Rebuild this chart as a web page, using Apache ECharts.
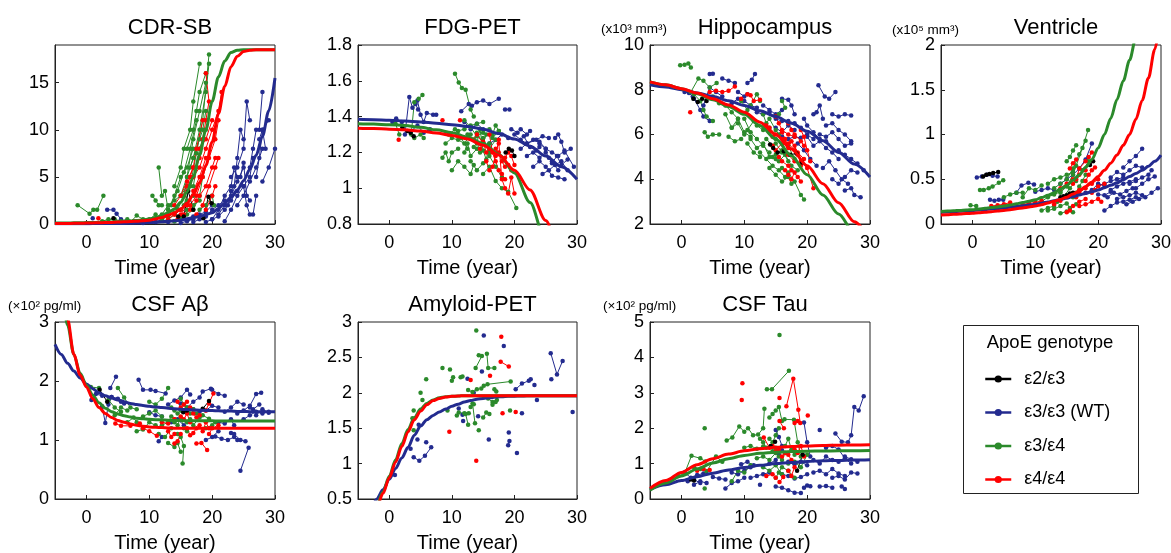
<!DOCTYPE html>
<html><head><meta charset="utf-8">
<script src="https://cdn.jsdelivr.net/npm/echarts@6/dist/echarts.min.js"></script>
<style>html,body{margin:0;padding:0;background:#fff}#c{width:1171px;height:553px}</style>
</head><body><div id="c"></div>
<script>
// ---------------- DATA ----------------
const genotypes = ['ε2/ε3', 'ε3/ε3 (WT)', 'ε3/ε4', 'ε4/ε4'];
const panelTitles = ['CDR-SB', 'FDG-PET', 'Hippocampus', 'Ventricle', 'CSF Aβ', 'Amyloid-PET', 'CSF Tau'];
const unitLabels = ['', '', '(x10³ mm³)', '(x10⁵ mm³)', '(×10² pg/ml)', '', '(×10² pg/ml)'];
const xMin = -5, xMax = 30;
const xTicks = [0, 10, 20, 30];
const yMin = [0, 0.8, 2, 0, 0, 0.5, 0];
const yMax = [19, 1.8, 10, 2, 3, 3, 5];
const yTicks = [[0, 5, 10, 15], [0.8, 1, 1.2, 1.4, 1.6, 1.8], [2, 4, 6, 8, 10], [0, 0.5, 1, 1.5, 2], [0, 1, 2, 3], [0.5, 1, 1.5, 2, 2.5, 3], [0, 1, 2, 3, 4, 5]];
const xName = 'Time (year)';
const legendTitle = 'ApoE genotype';

// trajectories: each entry is [x1,y1,x2,y2,...]
// CDR-SB
const cdr_k = [[4.3,0.6],[14.6,0.8,15.5,0.8,16.2,3.5,17,1.5],[18.6,0.6,19.4,2.9,19.9,2.2]];
const cdr_b = [[1,0.6],[3.3,1.5,4.3,1.5,4.8,1.1,5.5,0.5],[6,0.2,8,0.3,10,0.2,12,0.4,14,0.3],[9,0.1,11,0.2,13,0.2,15,0.5,17,0.8],
 [15,0.1,16,0.3,17,0.5,18,1,19,1.3,20,2],[17,0.2,18,0.5,19,0.8,20,1.5,21,2,22,2.5],[20,0.5,21,1.5,22,3,23,4,23.5,6,24,5],
 [21,1,22,2,23,3,24,4.5,25,6],[22,0.3,23,1.5,24,3,25,4,26,5,26.5,7],[22.5,2,23,3.5,23.5,4,24,7,24.5,10,25,9],
 [23,5,24,6,25,8,25.5,13,26,11],[24,2,25,3,26,4.5,27,6,28,8],[25,4,25.5,2,26,1,26.5,1,27,3],[26,6,26.5,8,27,10,27.5,10,28,14],
 [27,5,27.5,7,28,10,28.5,8],[27.5,9,28,10,29,11],[28,4.5,29,6,30,8],[19,0.2,20,0.5,21,0.8,22,1.5,23,2.5,24,3.5],[24.5,5,25,6.5,25.5,3,26,2.5]];
const cdr_g = [[-1.4,2,0.5,1.1,1.1,1.5,1.7,1.5,2.7,3],[2.5,0.3,3.5,0.5,4.5,0.5,5.5,0.3,6.5,0.5,7.5,0.3],[7,0.2,8,0.9,9,0.5,10,0.5,11,1],
 [10.5,3,11,2.5,11.5,2,12,2],[11.5,6,12,3,12.5,3.5,13,1.5],[12,1,13,2,14,2.5,15,3,16,4],[13,1.5,14,3,15,5,16,6,17,8],
 [13.5,2,14.5,3.5,15.5,5.5,16.5,8,17.5,11],[14,4,15,6,15.5,8,16.5,10,17,13,18,17],[14.5,1.5,15.5,3,16,5,17,7,18,10,19,14,19.5,17],
 [15,3,16,5,17,9,18,12,19,15],[15.5,2,16.5,4,17.5,7.5,18.5,11,19.5,18],[16,8,17,10,17.5,12,18,14,19,16],[16.5,6,17,7,18,9,18.5,10,19,12],
 [17,4,17.5,6,18,8,19,10],[13,0.5,14,1,15,1.5,16,2.5,17,3],[14,0.3,15,0.8,16,1.5,17,2,18,2.5],[12,0.5,13,0.8,14,1.2],
 [18,1.5,19,2,20,3,20.3,2],[16,1,17,1.5,18,3,18.5,5]];
const cdr_r = [[1.9,0.6],[13,0.5,14,1,15,1.5,16,2],[14,2,15,3,16,4.5,17,6],[15,1,16,2,17,3.5,18,5,19,7],[15.5,3,16.5,5,17,6,17.5,8,18.5,11],
 [16,4,17,5,18,7,18.5,9,19,11,19.5,13,19,16],[16.5,2,17.5,3,18.5,5,19.5,7,20.5,9,21,11],[17,5,18,6,19,8,20,10,21,12,21.5,14],
 [17.5,1,18.5,2,19.5,4,20.5,6,21,7],[18,3,19,4,20,6,20.5,7],[14.5,0.5,15.5,1,16.5,1.5,17.5,2.5],[18,8,19,9,20,11],[19,1.5,20,3,20.5,4]];
// FDG-PET
const fdg_k = [[2.1,1.34,2.9,1.32,3.4,1.31,3.9,1.29],[18.6,1.2,19.1,1.22,19.6,1.21,20,1.18]];
const fdg_b = [[0.5,1.37,1.1,1.39,2,1.37],[2.5,1.3,3.2,1.51,3.7,1.45,4.2,1.47,4.6,1.44],[4.5,1.49,5,1.41,5.5,1.37,6,1.42,7,1.41,7.5,1.41],
 [3.5,1.32,4.5,1.35,5.5,1.31,6.5,1.33],[11.5,1.43,12.7,1.47,13.2,1.46,14,1.48,15,1.49,16,1.47,17.5,1.5],[12,1.37,13,1.33,14,1.36,15,1.33],
 [18.5,1.44,19.2,1.44],[16,1.25,17,1.27,18,1.3,19,1.28],[19.5,1.33,20.5,1.31,21,1.33,22,1.3,22.5,1.32],[20,1.3,21,1.27,22,1.25,23,1.27,24,1.26,25,1.22],
 [21,1.22,22,1.25,23.5,1.27,24.5,1.29,25.5,1.28],[22,1.18,23,1.2,24,1.17,25,1.2,26,1.15,27,1.1],[23,1.12,24,1.15,25,1.12,26,1.07,27,1.06,28,1.05],
 [24,1.25,25,1.22,26,1.2,27,1.18,28,1.21,29.5,1.12],[24.5,1.08,25.5,1.1,26.5,1.13,27.5,1.15,28.5,1.1],[25.5,1.17,26,1.14,26.8,1.18,27.5,1.13,28.5,1.16],
 [26.5,1.28,27,1.3,27.5,1.26,28,1.2,29,1.22],[21.5,1.29,22.5,1.23,23.5,1.21,24,1.23]];
const fdg_g = [[1,1.36,1.6,1.3],[3.5,1.3,4,1.48,4.7,1.5,5.3,1.52],[4,1.28,5,1.3,5.5,1.28],[10.5,1.64,11.1,1.59,11.6,1.56,12.2,1.55,13,1.44,13.5,1.4],
 [8.5,1.17,9,1.2,9.5,1.15,10,1.2,11,1.22],[9,1.25,10,1.28,11,1.27,12,1.25,13,1.3],[10,1.1,11,1.15,12,1.12,13,1.08,13.5,1.13],
 [11,1.32,12,1.33,13,1.35,14,1.36,15,1.37],[12,1.2,12.5,1.25,13,1.18,14,1.22,15,1.28,16,1.2],[12.5,1.3,13.5,1.27,14,1.31,15,1.25,16,1.22,17,1.27],
 [13,1.15,14,1.1,15,1.14,16,1.18,17,1.12,18,1.06],[13.5,1.23,14.5,1.2,15.5,1.3,16.5,1.28,17.5,1.32],[14,1.25,14.5,1.33,15,1.21,15.5,1.16,16,1.25],
 [9.5,1.3,10.5,1.33,11.5,1.28,12.5,1.22],[15,1.08,16,1.12,17,1.04,18,1.0,19,0.98,20.3,0.89],[16,1.33,16.5,1.3,17,1.35,17.5,1.32],[12,1.38,13,1.34,14,1.29,15,1.31]];
const fdg_r = [[1.5,1.27],[8.5,1.38],[11.3,1.38],[14.5,1.22,15,1.26,15.5,1.2,16,1.22],[15.5,1.15,16,1.1,16.5,1.12,17,1.18,17.5,1.27],
 [16,1.3,16.5,1.2,17,1.15,17.5,1.1,18,1.08,18.5,1.05],[17,1.22,17.5,1.2,18,1.15,18.5,1.12,19,1.13,19.5,1.1],
 [17.5,1.25,18,1.05,18.5,1.0,19,0.97,19.5,1.06,20,0.97],[13.5,1.27,14,1.3,15,1.25],[18.5,1.17,19,1.2,19.5,1.18,20,1.13]];
// Hippocampus
const hip_k = [[1.9,7.6,2.6,7.45,3.3,7.6,4.0,7.5],[14.1,5.55,14.6,5.4,15.3,5.2,16.3,5.25,17.3,5.1,18.3,5.15,19.2,4.75]];
const hip_b = [[0.5,7.9,1.2,7.85,1.8,7.7],[2,7.6,3,7.1,3.5,6.8,4.5,6.6],[4.5,8.7,5,8.72],[3.5,7.3,4.5,8.1,5.5,7.9,6.5,7.7],[6.5,8.5,7.5,8.4,8.5,8.3],
 [8,7.4,9,7.6,10,7.5,11,7.3,12,7.2],[10.5,8.3,11.2,8.45,11.7,8.7],[12,7.0,13,6.9,14,7.0,15,6.7,16,6.6],[13,7.3,14,7.1,15,6.9,16,7.1],
 [15,6.3,16,6.1,17,6.4,18,6.2],[16,7.6,17,7.55,17.5,7.3,18,6.9],[17,6.6,18,6.5,19,6.3,20,6.0,21,5.8],[19.5,6.7,20,6.4,21,6.1,22,5.8,23,5.7],
 [20,5.9,21,5.5,22,5.7,23,5.4,24,5.2,25,4.9],[21,6.9,21.5,7.0,22,7.3,22.5,6.7],[21.8,8.2,22.8,7.7,23.5,7.6,24.5,7.9],
 [22,6.0,23,5.9,24,6.1,25,5.8,26,5.5,27,5.6],[22.5,4.5,23.5,4.8,24.5,4.4,25.5,4.0,26.5,3.8],[23,6.4,24,6.5,25,6.2,26,6.0,27,5.7],
 [24,6.9,25,6.8,26,6.9,27,6.85],[24,4.0,25,3.8,26,4.1,27,4.4,28,4.3],[25,5.3,26,5.1,27,4.9,28,4.7,29,4.4],[26,3.5,27,3.6,27.5,3.3,28.5,3.2],
 [18.5,5.6,19.5,5.3,20.5,4.9,21.5,4.6],[16,5.9,17,5.8,18,5.9,19,5.85],[9,7.9,10,7.7,10.5,7.8]];
const hip_g = [[-0.2,9.1,0.5,9.12,1.1,9.17,1.5,9.0],[1.5,7.9,2.7,8.5,3.5,8.4,4.5,8.1,5.6,8.3],[2,7.8,3,7.5,3.5,7.1,4,6.8,5,6.6],[3.7,6.1,4.2,5.9,5,6.0,6,6.0],
 [5,7.7,6,7.4,7,7.3,8,7.0,9,6.7],[7,6.9,8,6.3,9,6.7,10,6.1,11,5.9],[8,6.3,9,6.5,10,6.0,10.5,6.2,11.5,6.6],[9.5,7.5,10.5,7.1,11,7.3,12,7.8,12.5,7.5],
 [10,6.7,11,6.1,12,5.8,13,5.5,14,5.2],[11,5.8,12,5.4,13,5.6,14,5.0,15,4.9],[12,6.4,13,6.2,14,6.3,15,5.8,16,5.6],[12.5,5.2,13.5,4.9,14.5,4.6,15.5,4.4,16.5,4.1],
 [13,6.9,13.5,6.5,14,6.7,15,6.2,15.5,6.0],[13.5,5.8,14.5,5.5,15,5.1,16,5.3,17,4.8],[14,4.5,15,4.2,16,3.9,17,4.1,17.5,3.8],[14.5,5.0,15.5,4.8,16.5,5.1,17.5,4.6,18.5,4.4],
 [15,5.6,16,5.2,17,5.5,18,4.9],[16,7.5,16.5,7.2,15.5,6.9],[16,4.5,17,4.3,18,3.9,19,3.3,19.5,3.1],[10.5,5.6,11.5,5.2,12.5,5.0],[7.5,5.9,8.5,5.7,9.5,5.8]];
const hip_r = [[1.4,7.0],[4.5,7.9,5.5,7.95,6.5,7.9,7.5,7.95,8.5,8.15],[9.5,7.6,10.5,7.8,11,7.75,11.5,7.5,12.5,7.55],[14,6.3,15,6.0,16,5.8,17,5.6,18,5.3],
 [14.5,5.5,15,5.3,16,5.6,17,5.1,18,4.8,19,4.6],[15,6.8,15.5,6.5,16,6.2,17,6.0,18,5.9],[15.5,5.0,16,4.8,17,4.6,17.5,4.4,18.5,4.1],
 [16,6.1,16.5,5.8,17,5.4,17.5,5.7,18.5,5.2,19.5,4.9],[16.5,4.4,17,4.2,17.5,4.0,18,4.3,19,3.9],[17,6.5,17.5,6.2,18,6.0,19,5.7,19.5,5.5],
 [18,5.5,18.5,5.1,19,4.8,20,4.5,21,3.6],[19,6.2,19.5,5.9,20,5.3,20.5,4.8],[13.5,6.4,14,6.1,14.5,5.9]];
// Ventricle
const ven_k = [[1.7,0.53,2.2,0.55,2.7,0.56,3.3,0.57,4.1,0.58],[14,0.3,14.5,0.31,15,0.32,15.5,0.34,16,0.35],[18.7,0.66,19.2,0.7]];
const ven_b = [[0.7,0.52,1.5,0.53,2.3,0.55,3.2,0.54,4,0.53],[2.8,0.27,3.5,0.26,4.2,0.27,4.9,0.27],[7,0.35,7.8,0.43,8.9,0.46,9.8,0.44],
 [10,0.36,11,0.38,12,0.4,13,0.38],[14,0.45,15,0.5,16,0.55,17,0.62,18,0.72,19,0.9],[18,0.35,19,0.38,20,0.45,21,0.43],
 [20,0.43,21,0.45,22,0.48,23,0.5,24,0.52],[21,0.15,22,0.2,23,0.24,24,0.25,25,0.27,26,0.3],[21.5,0.3,22.5,0.35,23.5,0.33,24.5,0.37,25.5,0.4],
 [22,0.52,23,0.58,24,0.55,25,0.6,26,0.65,27,0.63],[22,0.38,23,0.42,24,0.45,25,0.47,26,0.5],[23,0.28,24,0.3,25,0.32,26,0.35,27,0.32],
 [24,0.63,25,0.7,26,0.76,27,0.84],[24.5,0.22,25.5,0.25,26.5,0.28,27.5,0.3,28.5,0.35,29.5,0.4],[25,0.45,26,0.48,27,0.52,28,0.55,28.5,0.6],
 [26,0.4,27,0.45,28,0.5,29,0.53],[20,0.33,21,0.32,22,0.36]];
const ven_g = [[-0.3,0.21,0.6,0.2],[1.2,0.38,1.8,0.38,2.6,0.4,3.2,0.42,4.2,0.46,4.9,0.49],[5,0.3,6,0.33,7,0.35,8,0.35],[8,0.3,9,0.4,10,0.38,11,0.43],
 [10,0.22,11,0.25,12,0.3,13,0.33,14,0.36],[12,0.15,13,0.17,14,0.2,15,0.23,16,0.13],[12,0.45,13,0.5,14,0.52,15,0.55,16,0.58],
 [13,0.4,14,0.45,15,0.5,16,0.62,17,0.78,18,0.93],[13.5,0.25,14.5,0.3,15.5,0.4,16.5,0.48,17.5,0.6,18.5,0.7],[14,0.35,15,0.42,16,0.55,16.5,0.65,17.5,0.85,18.4,1.05],
 [15,0.7,15.5,0.75,16,0.82,16.5,0.88],[14,0.12,15,0.14,15.5,0.18,16.5,0.22],[16,0.3,16.5,0.35,17,0.42,17.5,0.48,18,0.55],[11,0.15,12,0.18,13,0.2]];
const ven_r = [[3,0.2,4,0.21,5,0.22,6,0.24],[8,0.22,9,0.23,10,0.24,11,0.26],[13,0.22,14,0.26,15,0.3,16,0.33,17,0.38],[14,0.4,15,0.45,16,0.5,17,0.55,18,0.6],
 [15,0.13,15.5,0.15,16,0.2,17,0.25,18,0.28],[16,0.45,16.5,0.5,17,0.62,18,0.7,18.5,0.75,19,0.8],[16.5,0.3,17,0.35,18,0.4,19,0.45,20,0.5],
 [17,0.2,18,0.22,19,0.25,20,0.28,20.5,0.25],[18,0.48,18.5,0.55,19,0.6,19.5,0.63],[19,0.35,19.5,0.38,20,0.42,21,0.45],[15.5,0.62,16,0.68,16.5,0.72]];
// CSF Abeta
const abeta_k = [[2.1,1.85,3.3,1.65],[15.4,1.47,16,1.5],[18.5,1.53,19.5,1.66]];
const abeta_b = [[0.8,1.68,1.5,1.78,2.5,1.75],[2.5,1.57,3,1.29,3.5,1.6,4,1.73],[3.8,1.88,4.7,2.07],[4,1.73,5,1.7,5.5,1.65,6,1.62],
 [8.3,2.02,9,1.85,10.2,1.85,11,1.83,12.6,1.79],[10,1.47,11,1.42,12,1.4],[11.5,0.98,12,1.05],[13,1.6,14,1.67,15,1.72,16,1.85,16.5,1.77],
 [15,1.62,16,1.55,17,1.65,18,1.72,18.5,1.82,19.8,1.87],[17,1.52,18,1.48,19,1.5,20,1.58,21,1.55],[19,1.0,20,1.05,21,1.15],[20,1.85,21,1.78,22,1.75],
 [20.5,1.06,21.5,1.02,22.5,1.0,23.5,1.05,24,1.0],[21,1.3,22,1.28,23,1.35,23.5,1.25],[22,1.48,23,1.55,24,1.65,25,1.6],[23,1.12,23.5,1.1,24.5,1.0,25.3,0.98],
 [24,1.45,25,1.5,26,1.58,27,1.78,27.8,1.8],[24.5,0.48,25.8,0.87],[25,1.35,26,1.42,27,1.48,28,1.45,29,1.48],[26,1.55,26.5,1.52,27.5,1.6],
 [27,1.42,28,1.52,29,1.46],[13.5,1.3,14.5,1.35,15.5,1.25]];
const abeta_g = [[0.7,1.9,2,1.88],[3.5,1.68,4.5,1.55,5.5,1.48],[4.5,1.42,5.5,1.55,6.5,1.5],[5,1.88,6,1.72,7,1.55,8,1.52],[6.5,1.3,7.5,1.38,8,1.3,9,1.2],
 [8,1.15,9,1.18,10,1.3,11,1.25],[9,1.4,10,1.45,11,1.5,12,1.4],[10,1.65,11,1.6,12,1.7,13,1.88],[12,1.25,13,1.3,13.5,1.4,14,1.35],
 [13,0.95,14,0.88,14.5,0.95,15,0.8],[13.5,1.55,14,1.5,14.5,1.45,15,1.5],[14,1.3,14.5,1.25,15,1.38,15.5,1.2,16,1.15],[14.5,1.1,15,1.05,15.5,0.9,15.3,0.6],
 [15,1.7,15.5,1.6,16,1.55,16.5,1.45],[16,1.3,16.5,1.35,17,1.25,18,1.38],[17,1.52,17.5,1.45,18.5,1.42,19.5,1.36],[11.5,1.1,12.5,1.05,13.5,1.2],[19,1.2,20,1.25,20.5,1.3]];
const abeta_r = [[4.6,1.28,5.5,1.24,7,1.24,8.5,1.28],[9,1.2,10,1.15,11.2,1.07],[12,1.3,13,1.28,14,1.35],[14.5,1.65,15,1.55,15.5,1.6,16,1.65],
 [14,0.94,14.5,0.98,15,1.1],[15,1.4,15.5,1.35,16,1.45,16.5,1.3],[16,1.2,16.5,1.08,17,1.12,17.5,1.2],[16.5,1.55,17,1.45,17.5,1.38,18,1.42],
 [17.5,0.94,18.3,0.95,19.2,0.83],[18,1.25,18.5,1.15,19,1.3,19.5,1.2],[19,1.5,19.5,1.62,20.2,1.79],[19.5,1.1,20,1.2,21,1.25],[13,1.15,13.5,1.05,14,1.1]];
// Amyloid-PET
const amy_k = [];
const amy_b = [[0.9,0.84],[3.4,1.21],[3.9,1.09,4.8,1.04,5.7,1.11,6.7,1.23],[5.9,1.3],[4.5,1.34],[4.7,1.55],[11.1,1.78],[11.7,1.69],[11.8,1.6],[12.5,2.2],
 [13.5,2.0],[14.2,1.67],[15.1,2.81],[14.8,2.3],[15.9,1.34],[18.3,2.66],[19.1,1.44],[19.2,1.32,19,1.26],[20.4,1.15],[20.2,2.05,21.2,2.13,22.3,2.17,22.6,2.19],
 [23.2,2.11],[23.6,1.9],[21.2,1.71],[25.8,2.56,26.8,2.26,27.7,2.45],[25.9,2.19],[29.3,1.73]];
const amy_g = [[3.7,1.64],[3.9,1.75],[3.9,1.47],[5,2.0],[5.3,1.9],[5.9,2.19],[8.5,2.35],[9.3,1.75],[9.7,2.33],[10,2.17,10.2,2.22],[11.4,2.22,11.7,2.23],
 [10.8,1.68,11.1,1.72,12,1.71,12.7,1.71],[12.6,2.04,13.3,2.01,14,2.05],[13.3,1.85,13.7,1.57],[13.9,2.88],[14.3,2.53,14.8,2.52,13.8,2.35],
 [15.6,2.55,15.8,2.35,16.8,2.35],[14.3,1.47],[14.7,2.06,15.1,2.1,15.7,2.12,19.4,2.16],[15,1.65,15.5,1.72,16,1.7],[15.2,1.94,15.8,1.92,16.5,1.87],
 [16.5,1.83,17,1.87,17.2,1.9],[16.8,2.05,17.1,2.02],[13,1.8,13.5,1.84],[19.3,1.75],[12.2,1.7,12.6,1.55]];
const amy_r = [[9.6,1.45],[13,2.18],[13.9,1.04],[16.1,2.24],[17.9,2.79],[17.8,2.44,19.1,2.37],[18.1,1.71],[20.2,1.73]];
// CSF Tau
const tau_k = [[1.5,0.55,2,0.52],[14.2,1.5,14.9,1.62],[18.4,0.8,19.3,1.25]];
const tau_b = [[1,0.5,2,0.55,3,0.45],[0.5,0.75,1.5,0.6,2.5,0.68,3.5,0.72],[2,0.4,3,0.5,4,0.45],[5,0.62,6,0.58,7,0.55],[7,0.3,8,0.45,9,0.5,10,0.6],
 [8,0.75,9,0.7,10,0.8,11,0.9],[9.5,0.98,10.5,1.05,11.5,0.95],[11,0.6,12,0.65,13,0.7,14,0.75],[12.5,0.4],[14,1.0,15,1.1,15.5,1.25,16,1.38],
 [15,0.35,16,0.32,17,0.25,18,0.18,19,0.17],[16,0.7,17,0.65,18,0.58,19,0.62,20,0.7],[17,1.05,18,0.98,19,1.05,20,0.95],[15,1.95,15.5,1.75,16,1.5],
 [19.5,2.16,20,1.6,20.5,1.2],[19.5,0.32,20,0.38,20.5,0.36],[21,1.1,22,1.0,23,1.2,24,1.1,25,1.05],[21,0.75,22,0.8,23,0.7,24,0.85,25,0.72,26,0.65],
 [22,1.95],[22,0.35,23,0.37,24,0.32],[23,1.45,24,1.5,25,1.4,26,1.15,27,1.0],[24,0.6,25,0.65,26,0.55,27,0.75,28,0.72],
 [24.5,1.85,25.5,1.62,26.5,1.6,27,1.8,27.5,2.6,28.2,2.5,29,2.9],[25.5,0.35,26,0.28],[26,1.2,27,1.12,28,1.05]];
const tau_g = [[-0.5,0.65,0.5,0.72,1.6,1.22,3,1.15,3.8,1.06],[3.7,0.3],[3.7,2.0],[2,0.9,3,0.85,4,0.78,5.5,1.2,6.5,1.05],
 [7.2,1.65,8.1,1.74,9.2,2.05,10,1.9,10.6,2.0,11.4,1.8,12.2,1.82,13,2.0,13.2,2.55],[13.6,3.1,14.4,3.1,17.1,3.62],[15.6,4.63],
 [8,0.5,9,0.8,10,0.75,11,0.95],[10,1.45,11,1.5,12,1.42,13,1.48],[12,1.15,13,1.2,14,1.1,15,1.3],[13,0.9,14,0.8,15,0.95,16,0.7],
 [14,2.3,14.5,2.4,15,2.5,15.5,2.6,16,2.2],[14,1.7,14.5,1.6,15,1.8,15.5,2.0],[14.5,1.35,15,1.45,15.5,1.2,16,1.1,16.5,1.3],
 [15,0.6,15.5,0.75,16,0.9,17,0.8,18,0.6],[16.4,2.25,17.9,2.24,18.5,1.6,19,1.2],[16.5,1.5,17,1.7,17.5,1.4,18,1.25],[17,1.0,18,1.05,19,0.9,20,1.25],
 [12.5,1.7,13,1.6,13.5,1.45]];
const tau_r = [[2.5,0.8,3.5,0.85,4.5,0.82],[9.6,2.8],[9.7,3.27],[13.1,1.74,14,1.45],[13.5,0.65,14.5,0.7,15,0.6],[15.6,2.85],[15.6,2.2,16.3,2.0],
 [15.6,0.48,16.2,0.62],[16,1.2,16.5,1.3,17,1.25,17.5,1.1],[16.7,2.62,17.8,3.4,18.6,2.52,18.9,2.15],[17,0.8,17.5,0.65,18,0.9],[18,2.15,18.5,2.2],
 [18,1.4,18.5,1.3,19,1.5,19.5,1.2],[20.1,2.36],[14.5,1.5,15,1.35,15.5,1.4]];

// fitted curves, sampled on two x grids
const fitX1 = [-5,-4,-3,-2,-1,0,1,2,3,4,5,6,7,8,9,10,11,12,13,14,15,16,17,18,19,20,21,22,23,24,25,26,27,28,29,30];
const fitX25 = [-5,-2.5,0,2.5,5,7.5,10,12.5,15,17.5,20,22.5,25,27.5,30];
// on fitX1
const cdrFit_b = [0.02,0.02,0.02,0.03,0.03,0.03,0.04,0.04,0.04,0.05,0.05,0.06,0.08,0.1,0.12,0.15,0.19,0.23,0.28,0.34,0.4,0.52,0.65,0.8,1.0,1.2,1.65,2.2,2.85,3.6,4.6,5.8,7.3,9.3,12.0,15.5];
const cdrFit_g = [0.1,0.1,0.11,0.12,0.13,0.15,0.16,0.18,0.2,0.22,0.25,0.29,0.33,0.38,0.44,0.52,0.68,0.9,1.2,1.6,2.3,3.4,5.0,7.3,10.0,13.0,15.6,17.3,18.2,18.45,18.5,18.5,18.5,18.5,18.5,18.5];
const cdrFit_r = [0.05,0.06,0.06,0.07,0.08,0.1,0.11,0.13,0.15,0.17,0.2,0.23,0.26,0.3,0.35,0.4,0.53,0.7,0.92,1.2,1.6,2.2,3.1,4.4,6.2,8.7,11.7,14.6,16.7,17.8,18.3,18.45,18.5,18.5,18.5,18.5];
const venFit_b = [0.13,0.134,0.138,0.142,0.146,0.15,0.156,0.162,0.168,0.174,0.18,0.188,0.196,0.204,0.212,0.22,0.233,0.246,0.26,0.275,0.29,0.307,0.324,0.342,0.36,0.38,0.405,0.432,0.46,0.495,0.53,0.565,0.6,0.645,0.7,0.77];
const venFit_g = [0.14,0.144,0.148,0.152,0.156,0.16,0.167,0.175,0.183,0.191,0.2,0.213,0.226,0.24,0.255,0.27,0.295,0.32,0.35,0.39,0.43,0.49,0.55,0.63,0.72,0.85,1.0,1.18,1.39,1.6,1.83,2.08,2.4,2.8,3.2,3.6];
const venFit_r = [0.1,0.104,0.108,0.112,0.116,0.12,0.126,0.132,0.138,0.144,0.15,0.16,0.17,0.18,0.19,0.2,0.215,0.235,0.255,0.275,0.3,0.335,0.37,0.42,0.47,0.53,0.6,0.68,0.77,0.88,1.0,1.17,1.38,1.63,1.95,2.35];
const abetaFit_b = [2.62,2.45,2.3,2.17,2.05,1.95,1.87,1.8,1.75,1.71,1.68,1.65,1.62,1.6,1.585,1.57,1.56,1.55,1.54,1.53,1.52,1.515,1.51,1.505,1.5,1.5,1.495,1.49,1.49,1.485,1.485,1.48,1.48,1.48,1.48,1.48];
const abetaFit_g = [4.2,3.55,2.95,2.45,2.13,1.93,1.76,1.63,1.54,1.48,1.44,1.41,1.39,1.37,1.36,1.35,1.345,1.34,1.335,1.33,1.33,1.325,1.325,1.325,1.325,1.325,1.32,1.32,1.32,1.32,1.32,1.32,1.32,1.32,1.32,1.32];
const abetaFit_r = [4.4,3.7,3.05,2.45,2.1,1.9,1.7,1.55,1.45,1.38,1.33,1.3,1.27,1.25,1.235,1.22,1.215,1.21,1.205,1.2,1.2,1.2,1.2,1.2,1.2,1.2,1.2,1.2,1.2,1.2,1.2,1.2,1.2,1.2,1.2,1.2];
const amyFit_b = [0.05,0.2,0.35,0.5,0.63,0.78,0.93,1.08,1.23,1.4,1.53,1.62,1.68,1.73,1.77,1.81,1.84,1.87,1.89,1.91,1.92,1.93,1.94,1.945,1.95,1.953,1.955,1.957,1.958,1.959,1.96,1.96,1.96,1.96,1.96,1.96];
const amyFit_g = [0.0,0.15,0.3,0.42,0.6,0.82,1.05,1.28,1.48,1.65,1.77,1.85,1.9,1.93,1.945,1.95,1.955,1.96,1.96,1.96,1.96,1.96,1.96,1.96,1.96,1.96,1.96,1.96,1.96,1.96,1.96,1.96,1.96,1.96,1.96,1.96];
const amyFit_r = [0.0,0.12,0.26,0.38,0.58,0.8,1.02,1.24,1.45,1.62,1.74,1.83,1.89,1.92,1.94,1.95,1.955,1.96,1.96,1.96,1.96,1.96,1.96,1.96,1.96,1.96,1.96,1.96,1.96,1.96,1.96,1.96,1.96,1.96,1.96,1.96];
// on fitX25
const fdgFit_b = [1.385,1.383,1.38,1.375,1.37,1.363,1.355,1.345,1.33,1.305,1.275,1.235,1.18,1.12,1.05];
const fdgFit_g = [1.36,1.358,1.355,1.35,1.34,1.326,1.31,1.285,1.25,1.19,1.085,0.92,0.7,0.45,0.2];
const fdgFit_r = [1.335,1.333,1.33,1.326,1.32,1.308,1.295,1.275,1.24,1.185,1.1,0.99,0.82,0.6,0.35];
const hipFit_b = [8.22,8.12,8.0,7.86,7.7,7.51,7.3,7.06,6.8,6.5,6.15,5.72,5.2,4.68,4.1];
const hipFit_g = [8.35,8.22,8.05,7.82,7.55,7.25,6.9,6.4,5.8,5.05,4.2,3.3,2.45,1.6,0.8];
const hipFit_r = [8.35,8.22,8.05,7.85,7.6,7.32,7.0,6.55,6.0,5.35,4.6,3.8,2.95,2.1,1.3];
const tauFit_b = [0.27,0.4,0.52,0.63,0.73,0.82,0.89,0.95,1.0,1.03,1.06,1.08,1.09,1.1,1.11];
const tauFit_g = [0.25,0.45,0.65,0.85,1.02,1.14,1.23,1.29,1.32,1.34,1.35,1.355,1.36,1.365,1.37];
const tauFit_r = [0.3,0.52,0.75,0.97,1.14,1.27,1.36,1.42,1.46,1.48,1.5,1.51,1.52,1.525,1.53];

// ---------------- BUILD ----------------
const panelTraj = [
  {k: cdr_k, b: cdr_b, g: cdr_g, r: cdr_r},
  {k: fdg_k, b: fdg_b, g: fdg_g, r: fdg_r},
  {k: hip_k, b: hip_b, g: hip_g, r: hip_r},
  {k: ven_k, b: ven_b, g: ven_g, r: ven_r},
  {k: abeta_k, b: abeta_b, g: abeta_g, r: abeta_r},
  {k: amy_k, b: amy_b, g: amy_g, r: amy_r},
  {k: tau_k, b: tau_b, g: tau_g, r: tau_r}
];
const panelFit = [
  {x: fitX1, b: cdrFit_b, g: cdrFit_g, r: cdrFit_r},
  {x: fitX25, b: fdgFit_b, g: fdgFit_g, r: fdgFit_r},
  {x: fitX25, b: hipFit_b, g: hipFit_g, r: hipFit_r},
  {x: fitX1, b: venFit_b, g: venFit_g, r: venFit_r},
  {x: fitX1, b: abetaFit_b, g: abetaFit_g, r: abetaFit_r},
  {x: fitX1, b: amyFit_b, g: amyFit_g, r: amyFit_r},
  {x: fitX25, b: tauFit_b, g: tauFit_g, r: tauFit_r}
];

const COLORS = {k: '#000000', b: '#232b8f', g: '#2b8a2b', r: '#ff0000'};
const NAMES = {k: genotypes[0], b: genotypes[1], g: genotypes[2], r: genotypes[3]};
const FONT = '"Liberation Sans", Arial, Helvetica, sans-serif';

// layout (pixels)
const gridBoxes = [
  {left: 55, top: 45, width: 220, height: 179},
  {left: 358, top: 45, width: 219, height: 179},
  {left: 650, top: 45, width: 220, height: 179},
  {left: 941, top: 45, width: 220, height: 179},
  {left: 55, top: 322, width: 220, height: 177},
  {left: 358, top: 322, width: 219, height: 177},
  {left: 650, top: 322, width: 220, height: 177}
];
const unitPos = [null, null, [601, 30], [892, 31], [8, 307], null, [603, 307]];

function pairs(flat) { const o = []; for (let j = 0; j < flat.length; j += 2) o.push([flat[j], flat[j + 1]]); return o; }
function zip(xs, ys) { return ys.map((y, j) => [xs[j], y]); }
function trajData(trajs) {
  const out = [];
  trajs.forEach((t, i) => { if (i) out.push(['-', '-']); pairs(t).forEach(p => out.push(p)); });
  return out;
}

const grids = [], xAxes = [], yAxes = [], series = [], titles = [], graphics = [];
gridBoxes.forEach((gb, i) => {
  grids.push(Object.assign({show: true, borderColor: '#222', borderWidth: 1, backgroundColor: 'transparent',
    containLabel: false, outerBoundsMode: 'none'}, gb));
  xAxes.push({
    type: 'value', gridIndex: i, min: xMin, max: xMax,
    axisLine: {show: true, onZero: false, lineStyle: {color: '#222', width: 1}},
    axisTick: {show: true, inside: true, length: 4, customValues: xTicks, lineStyle: {color: '#222'}},
    axisLabel: {customValues: xTicks, color: '#000', fontSize: 18, margin: 10, fontFamily: FONT},
    splitLine: {show: false},
    name: xName, nameLocation: 'middle', nameGap: 34,
    nameTextStyle: {color: '#000', fontSize: 20, fontFamily: FONT}
  });
  yAxes.push({
    type: 'value', gridIndex: i, min: yMin[i], max: yMax[i],
    axisLine: {show: true, onZero: false, lineStyle: {color: '#222', width: 1}},
    axisTick: {show: true, inside: true, length: 4, customValues: yTicks[i], lineStyle: {color: '#222'}},
    axisLabel: {customValues: yTicks[i], color: '#000', fontSize: 18, margin: 6, fontFamily: FONT},
    splitLine: {show: false}
  });
  titles.push({
    text: panelTitles[i], left: gb.left + gb.width / 2, top: gb.top - 33, textAlign: 'center',
    textStyle: {fontSize: 22, fontWeight: 'normal', color: '#000', fontFamily: FONT}
  });
  if (unitPos[i]) {
    graphics.push({type: 'text', left: unitPos[i][0], top: unitPos[i][1] - 8,
      style: {text: unitLabels[i], fontSize: 13.5, fill: '#000', fontFamily: FONT}});
  }
  ['b', 'g', 'r', 'k'].forEach(key => {
    const tr = panelTraj[i][key];
    series.push({
      type: 'line', name: NAMES[key], xAxisIndex: i, yAxisIndex: i,
      data: tr.length ? trajData(tr) : [],
      connectNulls: false, symbol: 'circle', symbolSize: 4.5, showSymbol: true,
      lineStyle: {width: 1, color: COLORS[key]}, itemStyle: {color: COLORS[key]},
      emphasis: {disabled: true}, animation: false, z: 2
    });
  });
  ['b', 'g', 'r'].forEach(key => {
    series.push({
      type: 'line', name: NAMES[key] + ' fit', xAxisIndex: i, yAxisIndex: i,
      data: zip(panelFit[i].x, panelFit[i][key]), smooth: 0.3, smoothMonotone: 'x', showSymbol: false, symbol: 'none',
      lineStyle: {width: 3, color: COLORS[key]}, itemStyle: {color: COLORS[key]},
      emphasis: {disabled: true}, animation: false, clip: true, z: 3
    });
  });
});

// legend box + title
graphics.push({type: 'rect', left: 963, top: 325, shape: {width: 175, height: 168},
  style: {fill: '#fff', stroke: '#222', lineWidth: 1}, z: -1});
graphics.push({type: 'text', x: 1050, y: 343,
  style: {text: legendTitle, fontSize: 18.5, fill: '#000', fontFamily: FONT, align: 'center', verticalAlign: 'middle'}});

const chart = echarts.init(document.getElementById('c'), null, {renderer: 'canvas', width: 1171, height: 553});
chart.setOption({
  animation: false,
  backgroundColor: '#fff',
  title: titles,
  grid: grids, xAxis: xAxes, yAxis: yAxes, series: series,
  legend: {
    data: genotypes, orient: 'vertical', left: 979, top: 365, itemGap: 15.5,
    itemWidth: 26, itemHeight: 9, selectedMode: false,
    lineStyle: {width: 2.5}, itemStyle: {borderWidth: 0},
    textStyle: {fontSize: 18, color: '#000', fontFamily: FONT, padding: [0, 0, 0, 8]}
  },
  graphic: graphics
});
</script></body></html>
